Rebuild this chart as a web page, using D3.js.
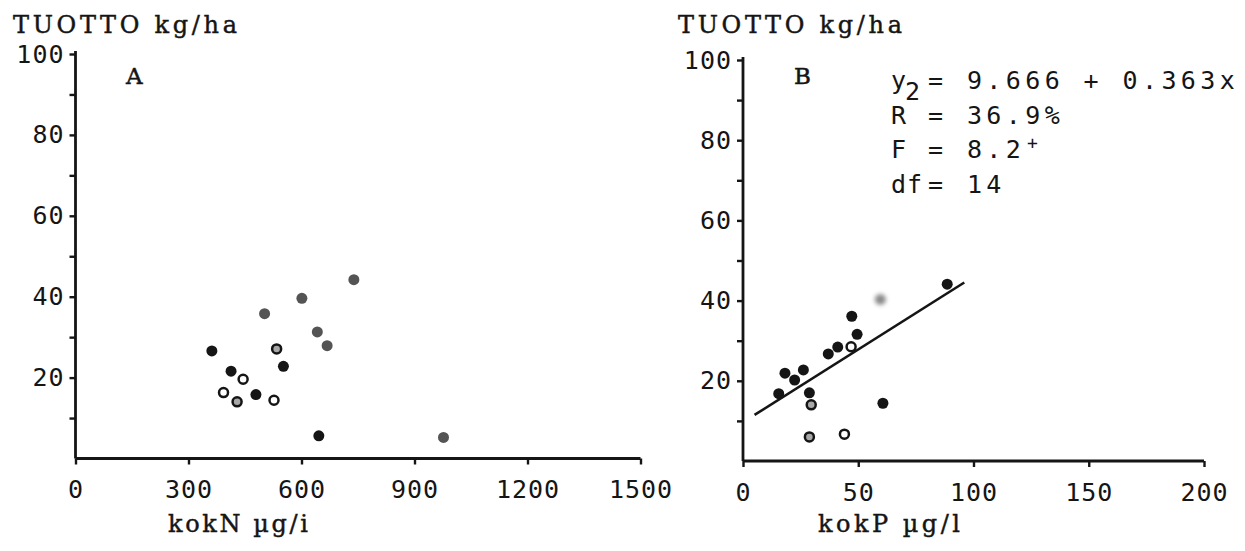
<!DOCTYPE html>
<html>
<head>
<meta charset="utf-8">
<script src="https://cdn.jsdelivr.net/npm/d3@7/dist/d3.min.js"></script>
<style>
  html, body { margin: 0; padding: 0; background: #fff; }
  svg { display: block; }
  .num { font-family: "DejaVu Sans Mono", monospace; fill: #151515; }
  .ttl { font-family: "DejaVu Serif", "Liberation Serif", serif; fill: #151515; stroke: #151515; stroke-width: 0.45px; }
  .tag { font-family: "DejaVu Serif", "Liberation Serif", serif; fill: #151515; stroke: #151515; stroke-width: 0.5px; }
</style>
</head>
<body>
<svg id="chart" width="1245" height="551"></svg>
<script>
// Panel A: total nitrogen (kokN) vs yield (kg/ha)
const kokN      = [739, 601, 502, 642, 668, 534, 362, 552, 413, 445, 393, 479, 429, 527, 646, 977];
const yieldA    = [44.2, 39.6, 35.8, 31.3, 27.9, 27.1, 26.6, 22.8, 21.6, 19.6, 16.3, 15.8, 14.0, 14.4, 5.6, 5.2];
const markA     = ["grey","grey","grey","grey","grey","ringGrey","solid","solid","solid","ring","ring","solid","ringGrey","ring","solid","grey"];

// Panel B: total phosphorus (kokP) vs yield (kg/ha)
const kokP      = [88.6, 59.6, 47.2, 49.5, 37.0, 41.1, 46.9, 18.2, 26.2, 22.4, 15.5, 28.8, 29.6, 60.7, 28.8, 44.0];
const yieldB    = [44.1, 40.3, 36.1, 31.6, 26.7, 28.4, 28.5, 21.9, 22.7, 20.2, 16.8, 17.0, 14.0, 14.4, 6.0, 6.7];
const markB     = ["solid","haze","solid","solid","solid","solid","ring","solid","solid","solid","solid","solid","ringGrey","solid","ringGrey","ring"];

// Regression y = a + b·x fitted to panel B
const fitIntercept = 9.666;
const fitSlope     = 0.363;
const fitRange     = [5, 96];

const yTicks  = [10, 20, 30, 40, 50, 60, 70, 80, 90, 100];
const xTicksA = [0, 300, 600, 900, 1200, 1500];
const xTicksB = [0, 50, 100, 150, 200];
const yTitle  = "TUOTTO kg/ha";
const xTitleA = "kokN µg/i";
const xTitleB = "kokP µg/l";
const statLines = [
  { lab: "y",   val: "= 9.666 + 0.363x" },
  { lab: "R",   val: "= 36.9%" },
  { lab: "F",   val: "= 8.2" },
  { lab: "df",  val: "= 14" }
];

const svg = d3.select("#chart");
const INK = "#151515";
const GREY = "#545454";

const defs = svg.append("defs");
defs.append("filter").attr("id", "soft")
  .attr("x", "-100%").attr("y", "-100%").attr("width", "300%").attr("height", "300%")
  .append("feGaussianBlur").attr("stdDeviation", 2.2);

function drawPanel(cfg) {
  const x = d3.scaleLinear().domain(cfg.xDomain).range(cfg.xRange);
  const y = d3.scaleLinear().domain([0, 100]).range(cfg.yRange);
  const g = svg.append("g");

  // y axis: a tick every 10, labels every 20
  const ya = g.append("g")
    .attr("transform", `translate(${cfg.xRange[0]},0)`)
    .call(d3.axisLeft(y).tickValues(yTicks).tickSize(6).tickPadding(5)
      .tickFormat(d => d % 20 === 0 ? d : ""));
  ya.select(".domain").attr("d", `M0,${y(0)}V${y(100) - 3}`);

  // x axis
  const xa = g.append("g")
    .attr("transform", `translate(0,${cfg.yRange[0]})`)
    .call(d3.axisBottom(x).tickValues(cfg.xTicks).tickSize(6).tickPadding(16)
      .tickFormat(d3.format("d")));
  xa.select(".domain").attr("d", `M${x(cfg.xDomain[0])},0H${x(cfg.xDomain[1])}`);

  g.selectAll(".domain").attr("stroke", INK).attr("stroke-width", 2.8);
  g.selectAll(".tick line").attr("stroke", INK).attr("stroke-width", 2.4);
  g.selectAll(".tick text").attr("class", "num").attr("font-size", 25)
    .attr("letter-spacing", 1).attr("fill", INK);

  // y axis title
  g.append("text").attr("class", "ttl")
    .attr("x", cfg.titleX).attr("y", 33)
    .attr("font-size", 24)
    .attr("textLength", 224).attr("lengthAdjust", "spacing")
    .text(yTitle);

  // x axis title
  g.append("text").attr("class", "ttl")
    .attr("x", cfg.xTitleX).attr("y", 532)
    .attr("font-size", 24)
    .attr("textLength", cfg.xTitleW).attr("lengthAdjust", "spacing")
    .text(cfg.xTitle);

  // panel tag
  g.append("text").attr("class", "tag")
    .attr("x", cfg.tagX).attr("y", 84)
    .attr("font-size", 23)
    .text(cfg.tag);

  return { g, x, y };
}

function drawPoints(p, xs, ys, kinds) {
  const pts = xs.map((v, i) => ({ x: v, y: ys[i], k: kinds[i] }));
  const fills = { solid: INK, grey: GREY, ring: "#fff", ringGrey: "#a8a8a8", haze: "#8a8a8a" };
  p.g.selectAll(null).data(pts).join("circle")
    .attr("cx", d => p.x(d.x))
    .attr("cy", d => p.y(d.y))
    .attr("r", d => d.k.startsWith("ring") ? 4.5 : 5.5)
    .attr("fill", d => fills[d.k])
    .attr("stroke", d => d.k.startsWith("ring") ? INK : "none")
    .attr("stroke-width", d => d.k.startsWith("ring") ? 2.5 : 0)
    .attr("filter", d => d.k === "haze" ? "url(#soft)" : null);
}

// Panel A
const pA = drawPanel({
  xDomain: [0, 1500], xRange: [75.5, 640.5], yRange: [458.5, 54],
  xTicks: xTicksA, titleX: 13, xTitleX: 168, xTitleW: 140, xTitle: xTitleA, tag: "A", tagX: 126
});
drawPoints(pA, kokN, yieldA, markA);

// Panel B
const pB = drawPanel({
  xDomain: [0, 200], xRange: [743, 1204], yRange: [461, 60],
  xTicks: xTicksB, titleX: 678, xTitleX: 818, xTitleW: 142, xTitle: xTitleB, tag: "B", tagX: 794
});
drawPoints(pB, kokP, yieldB, markB);

// regression line
const line = d3.line().x(d => pB.x(d)).y(d => pB.y(fitIntercept + fitSlope * d));
pB.g.append("path").datum(fitRange).attr("d", line)
  .attr("fill", "none").attr("stroke", INK).attr("stroke-width", 2.6);

// regression statistics block
const stat = pB.g.append("g").attr("class", "num").attr("font-size", 25);
statLines.forEach((s, i) => {
  const base = 89 + i * 34.5;
  stat.append("text").attr("x", 891).attr("y", base)
    .attr("letter-spacing", 1).text(s.lab);
  stat.append("text").attr("x", 928).attr("y", base)
    .attr("letter-spacing", 4.4).attr("xml:space", "preserve")
    .text(s.val);
});
// superscripts typed half a line up: R² and F⁺
stat.append("text").attr("x", 905).attr("y", 100).text("2");
stat.append("text").attr("x", 1027).attr("y", 149).attr("font-size", 18).text("+");
</script>
</body>
</html>
